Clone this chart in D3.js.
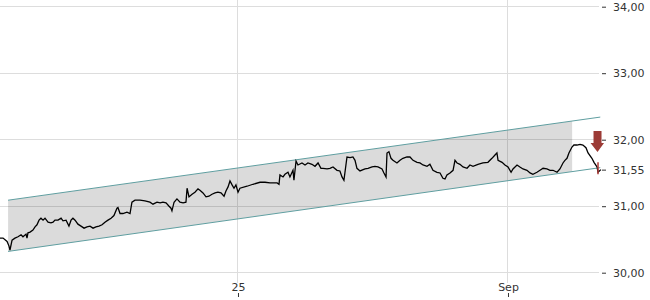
<!DOCTYPE html>
<html><head><meta charset="utf-8">
<script src="https://cdn.jsdelivr.net/npm/d3@7/dist/d3.min.js"></script>
<style>body{margin:0;background:#fff}svg{display:block;font-family:"DejaVu Sans",sans-serif}</style>
</head><body><svg id="c" width="650" height="300"></svg>
<script>
// ---- data ----
const startTime = new Date(2025, 7, 18, 19, 55);
const endTime = new Date(2025, 8, 3, 9, 15);
const hours = [0,1.9,4.4,5.6,6.2,7.5,9.3,11.2,13.1,14.3,16.2,16.8,17.4,18.7,20.5,21.8,23.0,24.3,25.5,26.8,28.0,29.9,31.7,33.0,34.2,36.1,38.0,39.2,41.1,42.9,44.2,45.4,46.7,48.5,50.4,52.3,54.1,56.0,57.9,59.7,61.6,63.5,65.3,67.2,69.1,70.9,72.8,73.4,74.7,76.5,79.0,80.9,82.1,84.0,87.1,90.2,93.3,95.2,97.7,99.6,101.4,103.3,105.2,106.4,107.0,108.3,110.1,112.0,113.9,115.7,116.4,117.6,119.5,121.3,123.2,124.4,126.3,128.2,130.0,131.9,133.8,135.6,137.5,139.4,140.6,141.9,143.1,144.4,145.6,146.8,148.1,149.3,153.7,157.4,161.8,164.9,168.0,172.4,173.6,174.2,176.1,177.3,179.2,180.4,182.3,182.9,184.2,185.4,187.9,189.8,191.6,194.1,196.0,197.9,199.7,201.0,203.5,205.3,207.2,209.7,211.5,212.8,214.0,215.9,217.8,219.6,220.9,222.1,224.0,227.1,229.0,231.5,233.3,235.2,237.7,238.9,240.2,240.8,242.0,243.3,244.5,247.0,248.9,250.7,253.2,255.1,257.0,259.5,261.3,263.2,265.7,267.5,269.4,271.9,273.8,275.6,276.9,278.1,280.0,281.9,283.1,284.4,286.2,288.1,290.6,292.4,294.3,297.4,300.5,303.6,306.1,308.0,309.2,309.9,312.4,314.2,316.1,318.0,319.2,321.7,323.5,325.4,327.9,329.8,331.6,334.1,336.0,337.9,340.3,342.2,344.1,346.6,348.4,350.3,351.5,352.8,354.0,355.9,357.1,359.0,360.9,362.7,364.6,365.9,368.3,369.6,371.5,372.1,373.9];
const prices = [30.52,30.52,30.47,30.40,30.34,30.49,30.52,30.54,30.57,30.54,30.58,30.52,30.60,30.61,30.64,30.69,30.72,30.79,30.82,30.79,30.82,30.76,30.75,30.76,30.79,30.79,30.82,30.78,30.79,30.70,30.79,30.82,30.79,30.73,30.70,30.67,30.69,30.70,30.67,30.69,30.70,30.72,30.76,30.79,30.82,30.86,30.97,30.98,30.89,30.89,30.91,30.89,31.06,31.09,31.09,31.08,31.06,31.03,31.06,31.05,31.06,31.05,31.00,30.97,30.93,31.06,31.11,31.06,31.05,31.06,31.27,31.14,31.18,31.21,31.26,31.24,31.20,31.14,31.15,31.18,31.20,31.21,31.20,31.15,31.23,31.29,31.38,31.32,31.27,31.32,31.21,31.27,31.30,31.33,31.36,31.36,31.35,31.35,31.33,31.47,31.44,31.48,31.51,31.44,31.54,31.39,31.68,31.62,31.65,31.62,31.65,31.63,31.60,31.65,31.57,31.57,31.56,31.57,31.59,31.54,31.53,31.44,31.39,31.74,31.73,31.74,31.69,31.57,31.53,31.56,31.57,31.59,31.60,31.59,31.56,31.50,31.44,31.80,31.82,31.72,31.69,31.65,31.69,31.72,31.74,31.74,31.69,31.66,31.65,31.62,31.60,31.63,31.54,31.51,31.50,31.42,31.41,31.47,31.50,31.54,31.69,31.65,31.63,31.59,31.57,31.62,31.60,31.63,31.65,31.66,31.72,31.77,31.80,31.69,31.66,31.62,31.59,31.51,31.56,31.62,31.59,31.56,31.54,31.50,31.48,31.51,31.54,31.57,31.56,31.54,31.54,31.51,31.56,31.65,31.69,31.72,31.80,31.89,31.92,31.92,31.93,31.92,31.88,31.80,31.72,31.66,31.59,31.51,31.55];
const priceTicks = [30, 31, 32, 33, 34];
const lastPrice = 31.55;
const dateTicks = [new Date(2025, 7, 25), new Date(2025, 8, 1)];
const channelHours = [5.0, 373.5];
const channelUpper = [31.09, 32.34];
const channelLower = [30.32, 31.58];
const shadeEndHour = 356;
const lastBarHour = 372.1;
const lastBar = [31.66, 31.48];
const arrowTop = 32.13;

// ---- scales ----
const HOUR = 3600e3;
const t = h => new Date(+startTime + h * HOUR);
const x = d3.scaleTime().domain([startTime, endTime]).range([0, 600]);
const y = d3.scaleLinear().domain([30, 34]).range([272.7, 6.7]);
const up = d3.scaleLinear().domain(channelHours).range(channelUpper);
const lo = d3.scaleLinear().domain(channelHours).range(channelLower);
const loc = d3.formatLocale({decimal: ",", thousands: ".", grouping: [3], currency: ["", "€"]});
const fmt = loc.format(".2f");

const svg = d3.select("#c");

// grid
svg.append("g").selectAll("line").data(priceTicks).join("line")
  .attr("x1", 0).attr("x2", 599)
  .attr("y1", d => y(d)).attr("y2", d => y(d))
  .attr("stroke", "#dddddd").attr("shape-rendering", "crispEdges");
svg.append("g").selectAll("line").data(dateTicks).join("line")
  .attr("x1", d => x(d)).attr("x2", d => x(d))
  .attr("y1", 0).attr("y2", 283)
  .attr("stroke", "#dddddd").attr("shape-rendering", "crispEdges");

// channel shading
const h0 = channelHours[0];
const shadePts = [[h0, up(h0)], [shadeEndHour, up(shadeEndHour)], [shadeEndHour, lo(shadeEndHour)], [h0, lo(h0)]];
svg.append("path")
  .attr("d", "M" + shadePts.map(p => [x(t(p[0])), y(p[1])].join(",")).join("L") + "Z")
  .attr("fill", "#000").attr("fill-opacity", 0.14);

// channel lines
[channelUpper, channelLower].forEach(arr => {
  svg.append("line")
    .attr("x1", x(t(channelHours[0]))).attr("y1", y(arr[0]))
    .attr("x2", x(t(channelHours[1]))).attr("y2", y(arr[1]))
    .attr("stroke", "#5f9ea0").attr("stroke-width", 1);
});

// price line
const line = d3.line().x((d, i) => x(t(hours[i]))).y(d => y(d));
svg.append("path").datum(prices)
  .attr("d", line).attr("fill", "none")
  .attr("stroke", "#000").attr("stroke-width", 1.3).attr("stroke-linejoin", "miter");

// last bar red
svg.append("line")
  .attr("x1", x(t(lastBarHour))).attr("x2", x(t(lastBarHour)))
  .attr("y1", y(lastBar[0])).attr("y2", y(lastBar[1]))
  .attr("stroke", "#b03a36").attr("stroke-width", 1.5);

// arrow
const cx = x(t(lastBarHour)) - 0.5, ay = y(arrowTop);
svg.append("path")
  .attr("d", `M${cx-4},${ay}H${cx+4}V${ay+12}H${cx+6.5}L${cx},${ay+21}L${cx-7},${ay+12}H${cx-4}Z`)
  .attr("fill", "#9c3b36");

// right axis
const ay2 = svg.append("g").attr("transform", "translate(602,0)")
  .call(d3.axisRight(y).tickValues([...priceTicks, lastPrice]).tickSize(4).tickPadding(7).tickFormat(fmt));
ay2.select(".domain").remove();
ay2.selectAll("line").attr("stroke", "#333");
ay2.selectAll("text").attr("font-size", 11).attr("fill", "#333").attr("font-family", "DejaVu Sans");

// bottom axis
const ax = svg.append("g").attr("transform", "translate(0,293)")
  .call(d3.axisBottom(x).tickValues(dateTicks).tickSize(4)
    .tickFormat(d => d.getDate() === 1 ? d3.timeFormat("%b")(d) : d3.timeFormat("%d")(d)));
ax.select(".domain").remove();
ax.selectAll("line").attr("stroke", "#333");
ax.selectAll("text").attr("y", -2).attr("dy", 0).attr("font-size", 11).attr("fill", "#333").attr("font-family", "DejaVu Sans");
</script></body></html>
